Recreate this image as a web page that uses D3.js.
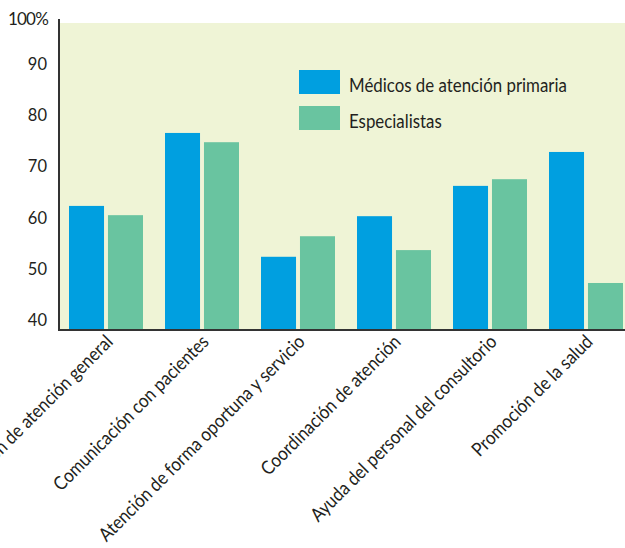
<!DOCTYPE html>
<html><head><meta charset="utf-8">
<script src="https://cdn.jsdelivr.net/npm/d3@7"></script>
<style>
html,body{margin:0;padding:0;background:#fff;}
svg{display:block;}
text{font-family:Lato,"Open Sans",sans-serif;fill:#231f20;}
</style></head>
<body>
<svg id="c" width="625" height="548"></svg>
<script>
const categories = ["Calificación de atención general","Comunicación con pacientes","Atención de forma oportuna y servicio","Coordinación de atención","Ayuda del personal del consultorio","Promoción de la salud"];
const seriesNames = ["Médicos de atención primaria","Especialistas"];
const primaria = [62.2, 76.4, 52.3, 60.2, 66.1, 72.7];
const especialistas = [60.4, 74.6, 56.3, 53.6, 67.4, 47.2];
const tickValues = [40, 50, 60, 70, 80, 90];
const topLabel = "100%";
const colors = ["#009fe0", "#69c4a0"];

const svg = d3.select("#c");
const pLeft = 59, pRight = 625, pTop = 23, pBottom = 330;
const legendTextWidth = 218; // target rendered width of first legend label (condensed face)

const y = d3.scaleLinear().domain([38.05, 97.8]).range([pBottom, pTop]);
const x0 = d3.scaleBand().domain(categories).range([58, 634]).paddingInner(22/96).paddingOuter(11/96);
const x1 = d3.scaleBand().domain(seriesNames).range([0, x0.bandwidth()]).paddingInner(4/39.5);

svg.append("rect").attr("x", pLeft).attr("y", pTop).attr("width", pRight-pLeft).attr("height", pBottom-pTop).attr("fill", "#eff4d6");

const data = categories.map((c,i)=>({cat:c, vals:[primaria[i], especialistas[i]]}));
const g = svg.append("g").selectAll("g").data(data).join("g").attr("transform", d=>`translate(${x0(d.cat)},0)`);
g.selectAll("rect").data(d=>d.vals.map((v,j)=>({name:seriesNames[j], v, j})))
 .join("rect")
 .attr("x", d=>x1(d.name)).attr("width", x1.bandwidth())
 .attr("y", d=>y(d.v)).attr("height", d=>pBottom - y(d.v))
 .attr("fill", d=>colors[d.j]);

// legend (measured first to derive condensing factor)
const lg = svg.append("g").selectAll("g").data(seriesNames).join("g")
  .attr("transform", (d,i)=>`translate(299,${70 + i*36})`);
lg.append("rect").attr("width", 41).attr("height", 24).attr("fill", (d,i)=>colors[i]);
const lt = lg.append("text").attr("font-size", 19).text(d=>d);
const natural = lt.nodes()[0].getComputedTextLength();
const sx = natural > 0 ? legendTextWidth / natural : 0.85;
lt.attr("transform", `translate(50,22) scale(${sx},1)`);

// axes
const ya = svg.append("g").attr("transform", `translate(${pLeft},0)`)
  .call(d3.axisLeft(y).tickValues(tickValues).tickSize(0).tickPadding(12));
ya.select(".domain").remove();
ya.selectAll("text").attr("font-size", 16.5).attr("font-family", null).attr("fill", "#231f20").attr("dy", "0.36em");
svg.append("text").attr("x", 48).attr("y", 25).attr("text-anchor", "end")
  .attr("font-size", 17).attr("letter-spacing", "-0.8px").text(topLabel);

svg.append("line").attr("x1", pLeft).attr("x2", pLeft).attr("y1", 19).attr("y2", pBottom+1)
  .attr("stroke", "#333").attr("stroke-width", 2);
svg.append("line").attr("x1", pLeft-1).attr("x2", pRight).attr("y1", pBottom).attr("y2", pBottom)
  .attr("stroke", "#333").attr("stroke-width", 2);

const xa = svg.append("g").attr("transform", `translate(0,${pBottom})`)
  .call(d3.axisBottom(x0).tickSize(0).tickPadding(0));
xa.select(".domain").remove();
xa.selectAll("text").attr("font-size", 19).attr("font-family", null).attr("fill", "#231f20")
  .attr("text-anchor", "end").attr("dy", null).attr("y", 0)
  .attr("transform", `translate(8,13) rotate(-45) scale(${sx},1)`);
</script>
</body></html>
